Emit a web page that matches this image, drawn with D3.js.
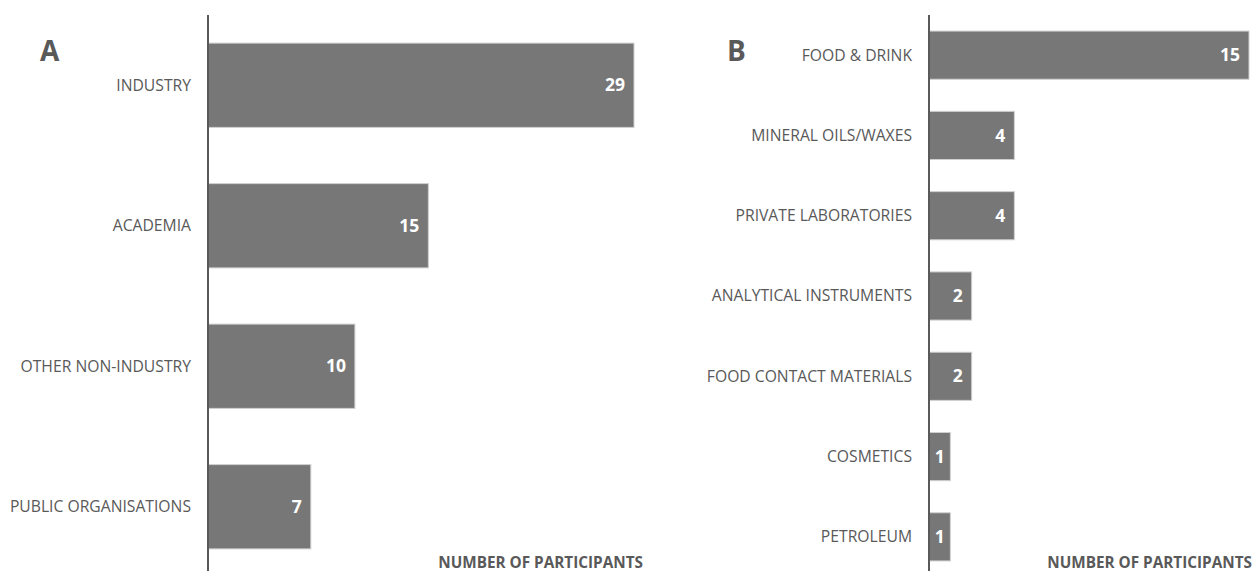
<!DOCTYPE html>
<html>
<head>
<meta charset="utf-8">
<script src="https://cdn.jsdelivr.net/npm/d3@7"></script>
<style>
  body { margin: 0; background: #fff; }
  svg { display: block; font-family: "Open Sans", sans-serif; }
</style>
</head>
<body>
<svg id="chart" width="1255" height="571"></svg>
<script>
'use strict';

// panel A data
var sectorsA = ['INDUSTRY', 'ACADEMIA', 'OTHER NON-INDUSTRY', 'PUBLIC ORGANISATIONS'];
var countsA = [29, 15, 10, 7];

// panel B data
var sectorsB = ['FOOD & DRINK', 'MINERAL OILS/WAXES', 'PRIVATE LABORATORIES',
	'ANALYTICAL INSTRUMENTS', 'FOOD CONTACT MATERIALS', 'COSMETICS', 'PETROLEUM'];
var countsB = [15, 4, 4, 2, 2, 1, 1];

var axisTitle = 'NUMBER OF PARTICIPANTS';

var svg = d3.select('#chart');

var drawPanel = function(opt) {
	var y = d3.scaleBand()
		.domain(opt.cats)
		.range([15, 577])
		.paddingInner(0.4)
		.paddingOuter(0.2);

	var x = d3.scaleLinear()
		.domain([0, d3.max(opt.vals)])
		.range([opt.x0, opt.x1]);

	var g = svg.append('g');
	var data = opt.cats.map(function(c, i) { return { cat: c, val: opt.vals[i] }; });

	g.selectAll('rect')
		.data(data)
		.enter()
		.append('rect')
		.attr('x', x(0))
		.attr('y', function(d) { return y(d.cat); })
		.attr('width', function(d) { return x(d.val) - x(0); })
		.attr('height', y.bandwidth())
		.attr('fill', '#777777')
		.attr('stroke', '#d0d0d0')
		.attr('stroke-width', 1);

	g.selectAll('.val')
		.data(data)
		.enter()
		.append('text')
		.attr('class', 'val')
		.attr('y', function(d) { return y(d.cat) + y.bandwidth() / 2; })
		.attr('dy', '0.35em')
		.attr('text-anchor', 'end')
		.attr('fill', '#ffffff')
		.attr('font-weight', 'bold')
		.attr('font-size', '17.5px')
		.text(function(d) { return d.val; })
		.attr('x', function(d) {
			// narrow bars get the label centred, like the original
			var room = (x(d.val) - x(0) - this.getComputedTextLength()) / 2;
			return x(d.val) - Math.min(9, room);
		});

	g.selectAll('.cat')
		.data(data)
		.enter()
		.append('text')
		.attr('class', 'cat')
		.attr('x', x(0) - 17)
		.attr('y', function(d) { return y(d.cat) + y.bandwidth() / 2; })
		.attr('dy', '0.35em')
		.attr('text-anchor', 'end')
		.attr('fill', '#595959')
		.attr('font-size', '15.7px')
		.text(function(d) { return d.cat; });

	// vertical axis line
	g.append('line')
		.attr('x1', x(0))
		.attr('x2', x(0))
		.attr('y1', 15)
		.attr('y2', 571)
		.attr('stroke', '#595959')
		.attr('stroke-width', 2);

	g.append('text')
		.attr('x', opt.titleX)
		.attr('y', 568)
		.attr('text-anchor', 'end')
		.attr('fill', '#595959')
		.attr('font-weight', 'bold')
		.attr('font-size', '15.3px')
		.text(axisTitle);

	g.append('text')
		.attr('x', opt.letterX)
		.attr('y', 61)
		.attr('fill', '#595959')
		.attr('font-weight', 'bold')
		.attr('font-size', '28px')
		.text(opt.letter);
};

drawPanel({ cats: sectorsA, vals: countsA, x0: 208, x1: 634, titleX: 643, letterX: 40, letter: 'A' });
drawPanel({ cats: sectorsB, vals: countsB, x0: 929, x1: 1249, titleX: 1252, letterX: 727, letter: 'B' });
</script>
</body>
</html>
